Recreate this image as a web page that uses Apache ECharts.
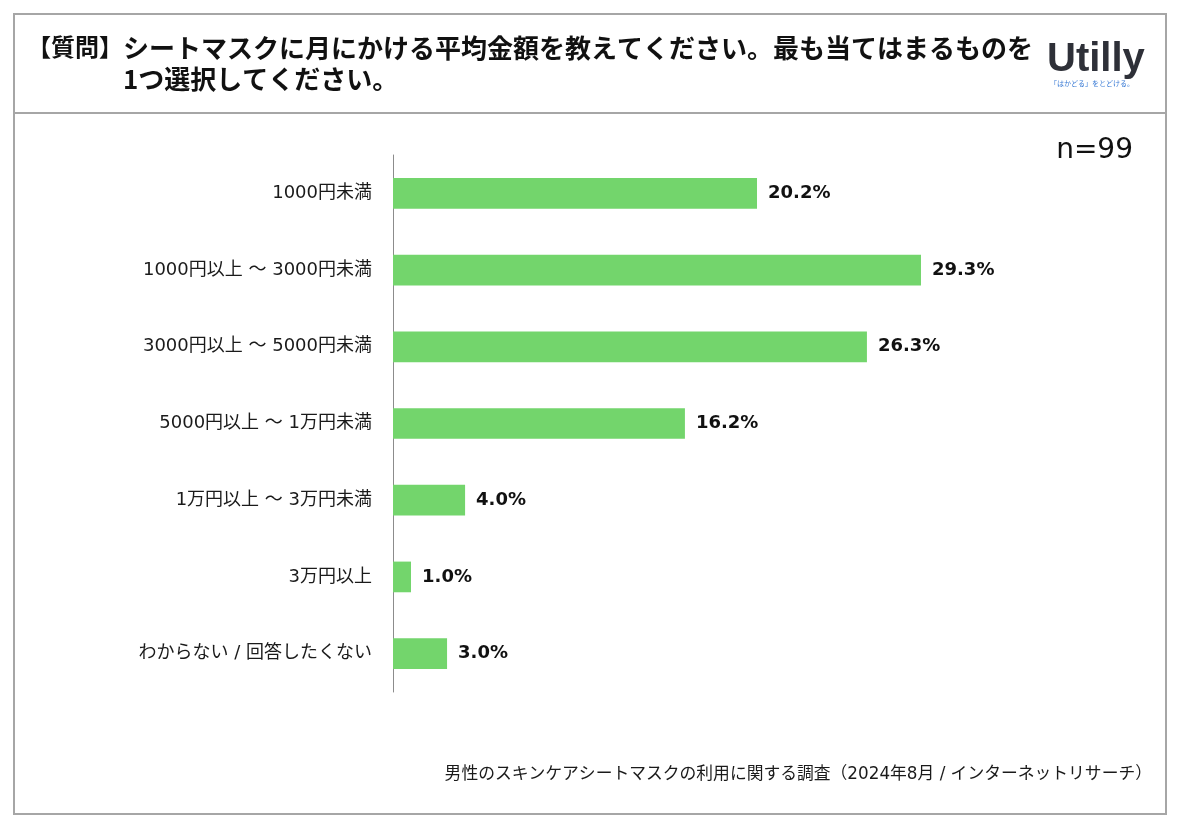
<!DOCTYPE html>
<html><head><meta charset="utf-8">
<script src="https://cdn.jsdelivr.net/npm/echarts@6/dist/echarts.min.js"></script>
<style>html,body{margin:0;padding:0;background:#fff}#c{width:1186px;height:830px}</style>
</head><body><div id="c"></div>
<script>
const categories = ['1000円未満','1000円以上 ～ 3000円未満','3000円以上 ～ 5000円未満','5000円以上 ～ 1万円未満','1万円以上 ～ 3万円未満','3万円以上','わからない / 回答したくない'];
const values = [20.2, 29.3, 26.3, 16.2, 4.0, 1.0, 3.0];
const titleLine1 = 'シートマスクに月にかける平均金額を教えてください。最も当てはまるものを';
const titleLine2 = '1つ選択してください。';
const sampleSize = 'n=99';
const footnote = '男性のスキンケアシートマスクの利用に関する調査（2024年8月 / インターネットリサーチ）';

const FONT = '"Noto Sans CJK JP", sans-serif';
const WIDE = '"DejaVu Sans", "Noto Sans CJK JP", sans-serif';
const chart = echarts.init(document.getElementById('c'), null, {renderer:'canvas'});
chart.setOption({
  backgroundColor:'#fff',
  animation:false,
  textStyle:{fontFamily:WIDE},
  grid:{left:393, top:155, width:540.6, height:537, containLabel:false},
  xAxis:{type:'value', min:0, max:30, show:false},
  yAxis:{type:'category', data:categories, inverse:true,
    axisLine:{show:true, lineStyle:{color:'#8c8c8c', width:1}},
    axisTick:{show:false},
    axisLabel:{color:'#1a1a1a', fontSize:18, margin:21, fontFamily:WIDE}},
  series:[{type:'bar', data:values, barWidth:'40%',
    itemStyle:{color:'#73d56c'},
    label:{show:true, position:'right', distance:11, color:'#111', fontWeight:'bold', fontSize:18,
      fontFamily:WIDE,
      formatter:p=>p.value.toFixed(1)+'%'}}],
  graphic:[
    {type:'rect', shape:{x:14,y:14,width:1152,height:800}, style:{fill:'none', stroke:'#a6a6a6', lineWidth:2}},
    {type:'line', shape:{x1:14,y1:113,x2:1166,y2:113}, style:{stroke:'#a6a6a6', lineWidth:2}},
    {type:'text', left:27, top:35, style:{text:'【質問】', font:'bold 24px '+FONT, fill:'#111'}},
    {type:'text', left:123, top:33, style:{text:titleLine1+'\n'+titleLine2, font:'bold 26px '+FONT, fill:'#111', lineHeight:31}},
    {type:'text', left:1047, top:40, style:{text:'Utilly', font:'bold 40px "Liberation Sans", Arial, sans-serif', fill:'#2e3038'}},
    {type:'text', left:1050, top:80, style:{text:'「はかどる」をとどける。', font:'7px '+FONT, fill:'#3a7bd5'}},
    {type:'text', right:53, top:137, style:{text:sampleSize, font:'28px "DejaVu Sans", sans-serif', fill:'#111'}},
    {type:'text', right:34, top:766, style:{text:footnote, font:'16.8px '+WIDE, fill:'#1a1a1a'}}
  ]
});
</script></body></html>
